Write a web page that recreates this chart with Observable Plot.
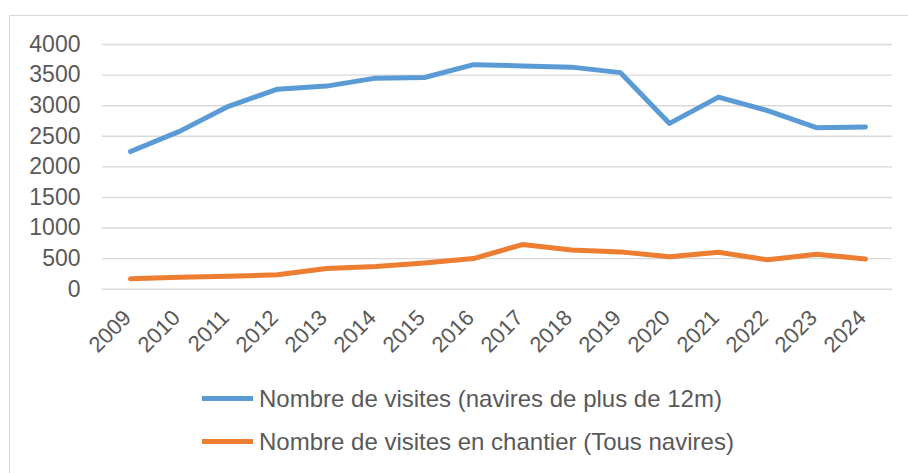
<!DOCTYPE html>
<html>
<head>
<meta charset="utf-8">
<script src="https://cdn.jsdelivr.net/npm/d3@7"></script>
<script src="https://cdn.jsdelivr.net/npm/@observablehq/plot@0.6"></script>
<style>
  html, body { margin: 0; padding: 0; background: #fff; overflow: hidden; }
  #frame { position: absolute; left: 9px; top: 15px; width: 940px; height: 500px; border: 1px solid #d9d9d9; background: #fff; }
  #legend { font-family: "Liberation Sans", Arial, sans-serif; font-size: 24px; color: #595959; padding-left: 192px; padding-top: 1px; }
  .row { display: flex; align-items: center; height: 43px; }
  .sw { display: inline-block; width: 51px; height: 5px; margin-right: 6px; }
</style>
</head>
<body>
<div id="frame"><div id="chart"></div><div id="legend"></div></div>
<script>
const years = ["2009","2010","2011","2012","2013","2014","2015","2016","2017","2018","2019","2020","2021","2022","2023","2024"];
const visites = [2250, 2580, 2990, 3270, 3320, 3450, 3460, 3670, 3650, 3630, 3540, 2710, 3140, 2920, 2640, 2650];
const chantier = [170, 195, 210, 235, 340, 370, 430, 500, 730, 640, 610, 530, 605, 480, 570, 495];
const yTicks = [0, 500, 1000, 1500, 2000, 2500, 3000, 3500, 4000];
const seriesNames = ["Nombre de visites (navires de plus de 12m)", "Nombre de visites en chantier (Tous navires)"];
const seriesColors = ["#5B9BD5", "#ED7D31"];

const d1 = years.map((y, i) => ({year: y, value: visites[i]}));
const d2 = years.map((y, i) => ({year: y, value: chantier[i]}));

const chart = Plot.plot({
  width: 898,
  height: 360,
  marginLeft: 92,
  marginRight: 16,
  marginTop: 28,
  marginBottom: 87.3,
  x: {type: "point", domain: years, padding: 0.5},
  y: {domain: [0, 4000]},
  style: {fontFamily: "'Liberation Sans', Arial, sans-serif", color: "#595959", background: "white", overflow: "visible"},
  marks: [
    Plot.ruleY(yTicks, {stroke: "#d9d9d9", strokeWidth: 1.4}),
    Plot.axisY({ticks: yTicks, tickFormat: d => String(d), tickSize: 0, tickPadding: 22, fontSize: 23, label: null}),
    Plot.axisX({tickSize: 0, tickPadding: 25, dx: -3, tickRotate: -45, fontSize: 22, label: null}),
    Plot.line(d1, {x: "year", y: "value", stroke: seriesColors[0], strokeWidth: 5, strokeLinejoin: "round"}),
    Plot.line(d2, {x: "year", y: "value", stroke: seriesColors[1], strokeWidth: 5, strokeLinejoin: "round"})
  ]
});
document.getElementById("chart").appendChild(chart);

const legend = document.getElementById("legend");
seriesNames.forEach((name, i) => {
  const row = document.createElement("div");
  row.className = "row";
  const sw = document.createElement("span");
  sw.className = "sw";
  sw.style.background = seriesColors[i];
  const t = document.createElement("span");
  t.textContent = name;
  row.appendChild(sw);
  row.appendChild(t);
  legend.appendChild(row);
});
</script>
</body>
</html>
